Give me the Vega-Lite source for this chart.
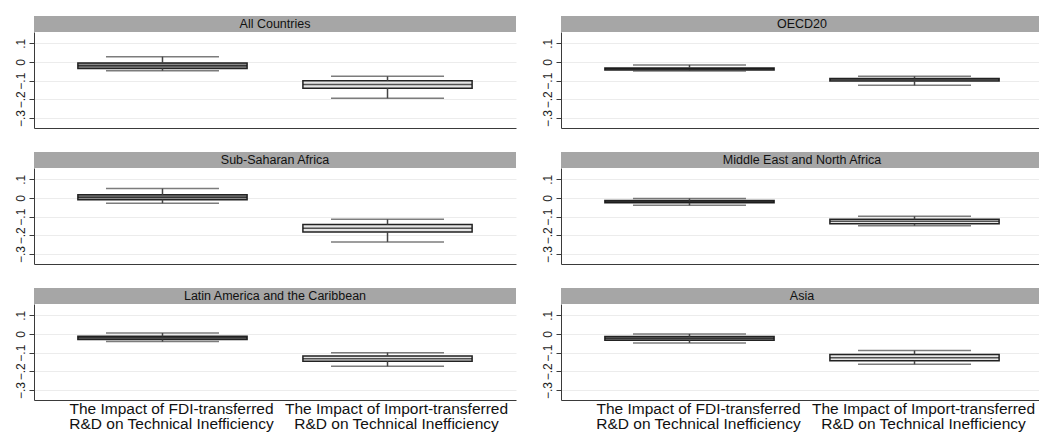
{
  "$schema": "https://vega.github.io/schema/vega-lite/v6.json",
  "padding": {"left": 13, "top": 16, "right": 0, "bottom": 0},
  "background": "white",
  "datasets": {
    "boxes": [
      {"region": "All Countries", "measure": "FDI", "lower": -0.047, "q1": -0.035, "median": -0.02, "q3": -0.005, "upper": 0.028},
      {"region": "All Countries", "measure": "Import", "lower": -0.194, "q1": -0.141, "median": -0.12, "q3": -0.1, "upper": -0.077},
      {"region": "OECD20", "measure": "FDI", "lower": -0.048, "q1": -0.043, "median": -0.037, "q3": -0.032, "upper": -0.016},
      {"region": "OECD20", "measure": "Import", "lower": -0.125, "q1": -0.102, "median": -0.095, "q3": -0.088, "upper": -0.077},
      {"region": "Sub-Saharan Africa", "measure": "FDI", "lower": -0.028, "q1": -0.009, "median": 0.004, "q3": 0.017, "upper": 0.05},
      {"region": "Sub-Saharan Africa", "measure": "Import", "lower": -0.235, "q1": -0.182, "median": -0.162, "q3": -0.142, "upper": -0.114},
      {"region": "Middle East and North Africa", "measure": "FDI", "lower": -0.039, "q1": -0.026, "median": -0.02, "q3": -0.014, "upper": -0.003},
      {"region": "Middle East and North Africa", "measure": "Import", "lower": -0.148, "q1": -0.138, "median": -0.125, "q3": -0.114, "upper": -0.098},
      {"region": "Latin America and the Caribbean", "measure": "FDI", "lower": -0.041, "q1": -0.03, "median": -0.02, "q3": -0.013, "upper": 0.005},
      {"region": "Latin America and the Caribbean", "measure": "Import", "lower": -0.173, "q1": -0.146, "median": -0.132, "q3": -0.118, "upper": -0.1},
      {"region": "Asia", "measure": "FDI", "lower": -0.048, "q1": -0.034, "median": -0.023, "q3": -0.014, "upper": 0.0},
      {"region": "Asia", "measure": "Import", "lower": -0.162, "q1": -0.143, "median": -0.127, "q3": -0.11, "upper": -0.089}
    ]
  },
  "columns": 2,
  "spacing": {"row": 24, "column": 24},
  "concat": [
    {
      "spacing": 0,
      "vconcat": [
        {"data": {"values": [{"region": "All Countries"}]}, "width": 482, "height": 16, "view": {"fill": "#a6a6a6", "stroke": null}, "mark": {"type": "text", "fontSize": 12.5, "color": "#111"}, "encoding": {"text": {"field": "region"}, "y": {"datum": 0, "type": "quantitative", "scale": {"domain": [-1, 1]}, "axis": {"title": null, "values": [0], "labelExpr": "'.1'", "labelColor": "transparent", "tickColor": "transparent", "domain": false, "grid": false}}}},
        {
          "data": {"name": "boxes"}, "width": 482, "height": 96,
          "transform": [{"filter": "datum.region == 'All Countries'"}],
          "encoding": {"x": {"field": "measure", "type": "nominal", "scale": {"domain": ["FDI", "Import"], "paddingInner": 0.248, "paddingOuter": 0.195}, "axis": {"title": null, "labels": false, "ticks": false}}},
          "layer": [
            {"mark": {"type": "bar", "stroke": "#222", "strokeWidth": 1.5}, "encoding": {"y": {"field": "q1", "type": "quantitative", "scale": {"domain": [-0.353, 0.16], "nice": false, "zero": false}, "axis": {"title": null, "values": [-0.3, -0.2, -0.1, 0, 0.1], "labelOverlap": false, "labelExpr": "datum.value == 0 ? '0' : replace(format(datum.value, '.1f'), '0.', '.')"}}, "y2": {"field": "q3"}, "fill": {"field": "measure", "type": "nominal", "scale": {"domain": ["FDI", "Import"], "range": ["#8a8a8a", "#e6e6e6"]}, "legend": null}}},
            {"mark": {"type": "tick", "color": "#111", "size": 169, "thickness": 1.5}, "encoding": {"y": {"field": "median", "type": "quantitative", "axis": {"title": null, "values": [-0.3, -0.2, -0.1, 0, 0.1], "labelOverlap": false, "labelExpr": "datum.value == 0 ? '0' : replace(format(datum.value, '.1f'), '0.', '.')"}}}},
            {"mark": {"type": "rule", "color": "#444", "strokeWidth": 1.5}, "encoding": {"y": {"field": "q3", "type": "quantitative", "axis": {"title": null, "values": [-0.3, -0.2, -0.1, 0, 0.1], "labelOverlap": false, "labelExpr": "datum.value == 0 ? '0' : replace(format(datum.value, '.1f'), '0.', '.')"}}, "y2": {"field": "upper"}}},
            {"mark": {"type": "rule", "color": "#444", "strokeWidth": 1.5}, "encoding": {"y": {"field": "lower", "type": "quantitative", "axis": {"title": null, "values": [-0.3, -0.2, -0.1, 0, 0.1], "labelOverlap": false, "labelExpr": "datum.value == 0 ? '0' : replace(format(datum.value, '.1f'), '0.', '.')"}}, "y2": {"field": "q1"}}},
            {"mark": {"type": "tick", "color": "#444", "size": 113, "thickness": 1.5}, "encoding": {"y": {"field": "upper", "type": "quantitative", "axis": {"title": null, "values": [-0.3, -0.2, -0.1, 0, 0.1], "labelOverlap": false, "labelExpr": "datum.value == 0 ? '0' : replace(format(datum.value, '.1f'), '0.', '.')"}}}},
            {"mark": {"type": "tick", "color": "#444", "size": 113, "thickness": 1.5}, "encoding": {"y": {"field": "lower", "type": "quantitative", "axis": {"title": null, "values": [-0.3, -0.2, -0.1, 0, 0.1], "labelOverlap": false, "labelExpr": "datum.value == 0 ? '0' : replace(format(datum.value, '.1f'), '0.', '.')"}}}}
          ]
        }
      ]
    },
    {
      "spacing": 0,
      "vconcat": [
        {"data": {"values": [{"region": "OECD20"}]}, "width": 482, "height": 16, "view": {"fill": "#a6a6a6", "stroke": null}, "mark": {"type": "text", "fontSize": 12.5, "color": "#111"}, "encoding": {"text": {"field": "region"}, "y": {"datum": 0, "type": "quantitative", "scale": {"domain": [-1, 1]}, "axis": {"title": null, "values": [0], "labelExpr": "'.1'", "labelColor": "transparent", "tickColor": "transparent", "domain": false, "grid": false}}}},
        {
          "data": {"name": "boxes"}, "width": 482, "height": 96,
          "transform": [{"filter": "datum.region == 'OECD20'"}],
          "encoding": {"x": {"field": "measure", "type": "nominal", "scale": {"domain": ["FDI", "Import"], "paddingInner": 0.248, "paddingOuter": 0.195}, "axis": {"title": null, "labels": false, "ticks": false}}},
          "layer": [
            {"mark": {"type": "bar", "stroke": "#222", "strokeWidth": 1.5}, "encoding": {"y": {"field": "q1", "type": "quantitative", "scale": {"domain": [-0.353, 0.16], "nice": false, "zero": false}, "axis": {"title": null, "values": [-0.3, -0.2, -0.1, 0, 0.1], "labelOverlap": false, "labelExpr": "datum.value == 0 ? '0' : replace(format(datum.value, '.1f'), '0.', '.')"}}, "y2": {"field": "q3"}, "fill": {"field": "measure", "type": "nominal", "scale": {"domain": ["FDI", "Import"], "range": ["#8a8a8a", "#e6e6e6"]}, "legend": null}}},
            {"mark": {"type": "tick", "color": "#111", "size": 169, "thickness": 1.5}, "encoding": {"y": {"field": "median", "type": "quantitative", "axis": {"title": null, "values": [-0.3, -0.2, -0.1, 0, 0.1], "labelOverlap": false, "labelExpr": "datum.value == 0 ? '0' : replace(format(datum.value, '.1f'), '0.', '.')"}}}},
            {"mark": {"type": "rule", "color": "#444", "strokeWidth": 1.5}, "encoding": {"y": {"field": "q3", "type": "quantitative", "axis": {"title": null, "values": [-0.3, -0.2, -0.1, 0, 0.1], "labelOverlap": false, "labelExpr": "datum.value == 0 ? '0' : replace(format(datum.value, '.1f'), '0.', '.')"}}, "y2": {"field": "upper"}}},
            {"mark": {"type": "rule", "color": "#444", "strokeWidth": 1.5}, "encoding": {"y": {"field": "lower", "type": "quantitative", "axis": {"title": null, "values": [-0.3, -0.2, -0.1, 0, 0.1], "labelOverlap": false, "labelExpr": "datum.value == 0 ? '0' : replace(format(datum.value, '.1f'), '0.', '.')"}}, "y2": {"field": "q1"}}},
            {"mark": {"type": "tick", "color": "#444", "size": 113, "thickness": 1.5}, "encoding": {"y": {"field": "upper", "type": "quantitative", "axis": {"title": null, "values": [-0.3, -0.2, -0.1, 0, 0.1], "labelOverlap": false, "labelExpr": "datum.value == 0 ? '0' : replace(format(datum.value, '.1f'), '0.', '.')"}}}},
            {"mark": {"type": "tick", "color": "#444", "size": 113, "thickness": 1.5}, "encoding": {"y": {"field": "lower", "type": "quantitative", "axis": {"title": null, "values": [-0.3, -0.2, -0.1, 0, 0.1], "labelOverlap": false, "labelExpr": "datum.value == 0 ? '0' : replace(format(datum.value, '.1f'), '0.', '.')"}}}}
          ]
        }
      ]
    },
    {
      "spacing": 0,
      "vconcat": [
        {"data": {"values": [{"region": "Sub-Saharan Africa"}]}, "width": 482, "height": 16, "view": {"fill": "#a6a6a6", "stroke": null}, "mark": {"type": "text", "fontSize": 12.5, "color": "#111"}, "encoding": {"text": {"field": "region"}, "y": {"datum": 0, "type": "quantitative", "scale": {"domain": [-1, 1]}, "axis": {"title": null, "values": [0], "labelExpr": "'.1'", "labelColor": "transparent", "tickColor": "transparent", "domain": false, "grid": false}}}},
        {
          "data": {"name": "boxes"}, "width": 482, "height": 96,
          "transform": [{"filter": "datum.region == 'Sub-Saharan Africa'"}],
          "encoding": {"x": {"field": "measure", "type": "nominal", "scale": {"domain": ["FDI", "Import"], "paddingInner": 0.248, "paddingOuter": 0.195}, "axis": {"title": null, "labels": false, "ticks": false}}},
          "layer": [
            {"mark": {"type": "bar", "stroke": "#222", "strokeWidth": 1.5}, "encoding": {"y": {"field": "q1", "type": "quantitative", "scale": {"domain": [-0.353, 0.16], "nice": false, "zero": false}, "axis": {"title": null, "values": [-0.3, -0.2, -0.1, 0, 0.1], "labelOverlap": false, "labelExpr": "datum.value == 0 ? '0' : replace(format(datum.value, '.1f'), '0.', '.')"}}, "y2": {"field": "q3"}, "fill": {"field": "measure", "type": "nominal", "scale": {"domain": ["FDI", "Import"], "range": ["#8a8a8a", "#e6e6e6"]}, "legend": null}}},
            {"mark": {"type": "tick", "color": "#111", "size": 169, "thickness": 1.5}, "encoding": {"y": {"field": "median", "type": "quantitative", "axis": {"title": null, "values": [-0.3, -0.2, -0.1, 0, 0.1], "labelOverlap": false, "labelExpr": "datum.value == 0 ? '0' : replace(format(datum.value, '.1f'), '0.', '.')"}}}},
            {"mark": {"type": "rule", "color": "#444", "strokeWidth": 1.5}, "encoding": {"y": {"field": "q3", "type": "quantitative", "axis": {"title": null, "values": [-0.3, -0.2, -0.1, 0, 0.1], "labelOverlap": false, "labelExpr": "datum.value == 0 ? '0' : replace(format(datum.value, '.1f'), '0.', '.')"}}, "y2": {"field": "upper"}}},
            {"mark": {"type": "rule", "color": "#444", "strokeWidth": 1.5}, "encoding": {"y": {"field": "lower", "type": "quantitative", "axis": {"title": null, "values": [-0.3, -0.2, -0.1, 0, 0.1], "labelOverlap": false, "labelExpr": "datum.value == 0 ? '0' : replace(format(datum.value, '.1f'), '0.', '.')"}}, "y2": {"field": "q1"}}},
            {"mark": {"type": "tick", "color": "#444", "size": 113, "thickness": 1.5}, "encoding": {"y": {"field": "upper", "type": "quantitative", "axis": {"title": null, "values": [-0.3, -0.2, -0.1, 0, 0.1], "labelOverlap": false, "labelExpr": "datum.value == 0 ? '0' : replace(format(datum.value, '.1f'), '0.', '.')"}}}},
            {"mark": {"type": "tick", "color": "#444", "size": 113, "thickness": 1.5}, "encoding": {"y": {"field": "lower", "type": "quantitative", "axis": {"title": null, "values": [-0.3, -0.2, -0.1, 0, 0.1], "labelOverlap": false, "labelExpr": "datum.value == 0 ? '0' : replace(format(datum.value, '.1f'), '0.', '.')"}}}}
          ]
        }
      ]
    },
    {
      "spacing": 0,
      "vconcat": [
        {"data": {"values": [{"region": "Middle East and North Africa"}]}, "width": 482, "height": 16, "view": {"fill": "#a6a6a6", "stroke": null}, "mark": {"type": "text", "fontSize": 12.5, "color": "#111"}, "encoding": {"text": {"field": "region"}, "y": {"datum": 0, "type": "quantitative", "scale": {"domain": [-1, 1]}, "axis": {"title": null, "values": [0], "labelExpr": "'.1'", "labelColor": "transparent", "tickColor": "transparent", "domain": false, "grid": false}}}},
        {
          "data": {"name": "boxes"}, "width": 482, "height": 96,
          "transform": [{"filter": "datum.region == 'Middle East and North Africa'"}],
          "encoding": {"x": {"field": "measure", "type": "nominal", "scale": {"domain": ["FDI", "Import"], "paddingInner": 0.248, "paddingOuter": 0.195}, "axis": {"title": null, "labels": false, "ticks": false}}},
          "layer": [
            {"mark": {"type": "bar", "stroke": "#222", "strokeWidth": 1.5}, "encoding": {"y": {"field": "q1", "type": "quantitative", "scale": {"domain": [-0.353, 0.16], "nice": false, "zero": false}, "axis": {"title": null, "values": [-0.3, -0.2, -0.1, 0, 0.1], "labelOverlap": false, "labelExpr": "datum.value == 0 ? '0' : replace(format(datum.value, '.1f'), '0.', '.')"}}, "y2": {"field": "q3"}, "fill": {"field": "measure", "type": "nominal", "scale": {"domain": ["FDI", "Import"], "range": ["#8a8a8a", "#e6e6e6"]}, "legend": null}}},
            {"mark": {"type": "tick", "color": "#111", "size": 169, "thickness": 1.5}, "encoding": {"y": {"field": "median", "type": "quantitative", "axis": {"title": null, "values": [-0.3, -0.2, -0.1, 0, 0.1], "labelOverlap": false, "labelExpr": "datum.value == 0 ? '0' : replace(format(datum.value, '.1f'), '0.', '.')"}}}},
            {"mark": {"type": "rule", "color": "#444", "strokeWidth": 1.5}, "encoding": {"y": {"field": "q3", "type": "quantitative", "axis": {"title": null, "values": [-0.3, -0.2, -0.1, 0, 0.1], "labelOverlap": false, "labelExpr": "datum.value == 0 ? '0' : replace(format(datum.value, '.1f'), '0.', '.')"}}, "y2": {"field": "upper"}}},
            {"mark": {"type": "rule", "color": "#444", "strokeWidth": 1.5}, "encoding": {"y": {"field": "lower", "type": "quantitative", "axis": {"title": null, "values": [-0.3, -0.2, -0.1, 0, 0.1], "labelOverlap": false, "labelExpr": "datum.value == 0 ? '0' : replace(format(datum.value, '.1f'), '0.', '.')"}}, "y2": {"field": "q1"}}},
            {"mark": {"type": "tick", "color": "#444", "size": 113, "thickness": 1.5}, "encoding": {"y": {"field": "upper", "type": "quantitative", "axis": {"title": null, "values": [-0.3, -0.2, -0.1, 0, 0.1], "labelOverlap": false, "labelExpr": "datum.value == 0 ? '0' : replace(format(datum.value, '.1f'), '0.', '.')"}}}},
            {"mark": {"type": "tick", "color": "#444", "size": 113, "thickness": 1.5}, "encoding": {"y": {"field": "lower", "type": "quantitative", "axis": {"title": null, "values": [-0.3, -0.2, -0.1, 0, 0.1], "labelOverlap": false, "labelExpr": "datum.value == 0 ? '0' : replace(format(datum.value, '.1f'), '0.', '.')"}}}}
          ]
        }
      ]
    },
    {
      "spacing": 0,
      "vconcat": [
        {"data": {"values": [{"region": "Latin America and the Caribbean"}]}, "width": 482, "height": 16, "view": {"fill": "#a6a6a6", "stroke": null}, "mark": {"type": "text", "fontSize": 12.5, "color": "#111"}, "encoding": {"text": {"field": "region"}, "y": {"datum": 0, "type": "quantitative", "scale": {"domain": [-1, 1]}, "axis": {"title": null, "values": [0], "labelExpr": "'.1'", "labelColor": "transparent", "tickColor": "transparent", "domain": false, "grid": false}}}},
        {
          "data": {"name": "boxes"}, "width": 482, "height": 96,
          "transform": [{"filter": "datum.region == 'Latin America and the Caribbean'"}],
          "encoding": {"x": {"field": "measure", "type": "nominal", "scale": {"domain": ["FDI", "Import"], "paddingInner": 0.248, "paddingOuter": 0.195}, "axis": {"title": null, "ticks": false, "labelAngle": 0, "labelFontSize": 15.5, "labelLineHeight": 15, "labelPadding": 1, "labelOffset": 9, "labelColor": "#111", "labelLimit": 0, "labelOverlap": false, "labelExpr": "datum.value == 'FDI' ? ['The Impact of FDI-transferred', 'R&D on Technical Inefficiency'] : ['The Impact of Import-transferred', 'R&D on Technical Inefficiency']"}}},
          "layer": [
            {"mark": {"type": "bar", "stroke": "#222", "strokeWidth": 1.5}, "encoding": {"y": {"field": "q1", "type": "quantitative", "scale": {"domain": [-0.353, 0.16], "nice": false, "zero": false}, "axis": {"title": null, "values": [-0.3, -0.2, -0.1, 0, 0.1], "labelOverlap": false, "labelExpr": "datum.value == 0 ? '0' : replace(format(datum.value, '.1f'), '0.', '.')"}}, "y2": {"field": "q3"}, "fill": {"field": "measure", "type": "nominal", "scale": {"domain": ["FDI", "Import"], "range": ["#8a8a8a", "#e6e6e6"]}, "legend": null}}},
            {"mark": {"type": "tick", "color": "#111", "size": 169, "thickness": 1.5}, "encoding": {"y": {"field": "median", "type": "quantitative", "axis": {"title": null, "values": [-0.3, -0.2, -0.1, 0, 0.1], "labelOverlap": false, "labelExpr": "datum.value == 0 ? '0' : replace(format(datum.value, '.1f'), '0.', '.')"}}}},
            {"mark": {"type": "rule", "color": "#444", "strokeWidth": 1.5}, "encoding": {"y": {"field": "q3", "type": "quantitative", "axis": {"title": null, "values": [-0.3, -0.2, -0.1, 0, 0.1], "labelOverlap": false, "labelExpr": "datum.value == 0 ? '0' : replace(format(datum.value, '.1f'), '0.', '.')"}}, "y2": {"field": "upper"}}},
            {"mark": {"type": "rule", "color": "#444", "strokeWidth": 1.5}, "encoding": {"y": {"field": "lower", "type": "quantitative", "axis": {"title": null, "values": [-0.3, -0.2, -0.1, 0, 0.1], "labelOverlap": false, "labelExpr": "datum.value == 0 ? '0' : replace(format(datum.value, '.1f'), '0.', '.')"}}, "y2": {"field": "q1"}}},
            {"mark": {"type": "tick", "color": "#444", "size": 113, "thickness": 1.5}, "encoding": {"y": {"field": "upper", "type": "quantitative", "axis": {"title": null, "values": [-0.3, -0.2, -0.1, 0, 0.1], "labelOverlap": false, "labelExpr": "datum.value == 0 ? '0' : replace(format(datum.value, '.1f'), '0.', '.')"}}}},
            {"mark": {"type": "tick", "color": "#444", "size": 113, "thickness": 1.5}, "encoding": {"y": {"field": "lower", "type": "quantitative", "axis": {"title": null, "values": [-0.3, -0.2, -0.1, 0, 0.1], "labelOverlap": false, "labelExpr": "datum.value == 0 ? '0' : replace(format(datum.value, '.1f'), '0.', '.')"}}}}
          ]
        }
      ]
    },
    {
      "spacing": 0,
      "vconcat": [
        {"data": {"values": [{"region": "Asia"}]}, "width": 482, "height": 16, "view": {"fill": "#a6a6a6", "stroke": null}, "mark": {"type": "text", "fontSize": 12.5, "color": "#111"}, "encoding": {"text": {"field": "region"}, "y": {"datum": 0, "type": "quantitative", "scale": {"domain": [-1, 1]}, "axis": {"title": null, "values": [0], "labelExpr": "'.1'", "labelColor": "transparent", "tickColor": "transparent", "domain": false, "grid": false}}}},
        {
          "data": {"name": "boxes"}, "width": 482, "height": 96,
          "transform": [{"filter": "datum.region == 'Asia'"}],
          "encoding": {"x": {"field": "measure", "type": "nominal", "scale": {"domain": ["FDI", "Import"], "paddingInner": 0.248, "paddingOuter": 0.195}, "axis": {"title": null, "ticks": false, "labelAngle": 0, "labelFontSize": 15.5, "labelLineHeight": 15, "labelPadding": 1, "labelOffset": 9, "labelColor": "#111", "labelLimit": 0, "labelOverlap": false, "labelExpr": "datum.value == 'FDI' ? ['The Impact of FDI-transferred', 'R&D on Technical Inefficiency'] : ['The Impact of Import-transferred', 'R&D on Technical Inefficiency']"}}},
          "layer": [
            {"mark": {"type": "bar", "stroke": "#222", "strokeWidth": 1.5}, "encoding": {"y": {"field": "q1", "type": "quantitative", "scale": {"domain": [-0.353, 0.16], "nice": false, "zero": false}, "axis": {"title": null, "values": [-0.3, -0.2, -0.1, 0, 0.1], "labelOverlap": false, "labelExpr": "datum.value == 0 ? '0' : replace(format(datum.value, '.1f'), '0.', '.')"}}, "y2": {"field": "q3"}, "fill": {"field": "measure", "type": "nominal", "scale": {"domain": ["FDI", "Import"], "range": ["#8a8a8a", "#e6e6e6"]}, "legend": null}}},
            {"mark": {"type": "tick", "color": "#111", "size": 169, "thickness": 1.5}, "encoding": {"y": {"field": "median", "type": "quantitative", "axis": {"title": null, "values": [-0.3, -0.2, -0.1, 0, 0.1], "labelOverlap": false, "labelExpr": "datum.value == 0 ? '0' : replace(format(datum.value, '.1f'), '0.', '.')"}}}},
            {"mark": {"type": "rule", "color": "#444", "strokeWidth": 1.5}, "encoding": {"y": {"field": "q3", "type": "quantitative", "axis": {"title": null, "values": [-0.3, -0.2, -0.1, 0, 0.1], "labelOverlap": false, "labelExpr": "datum.value == 0 ? '0' : replace(format(datum.value, '.1f'), '0.', '.')"}}, "y2": {"field": "upper"}}},
            {"mark": {"type": "rule", "color": "#444", "strokeWidth": 1.5}, "encoding": {"y": {"field": "lower", "type": "quantitative", "axis": {"title": null, "values": [-0.3, -0.2, -0.1, 0, 0.1], "labelOverlap": false, "labelExpr": "datum.value == 0 ? '0' : replace(format(datum.value, '.1f'), '0.', '.')"}}, "y2": {"field": "q1"}}},
            {"mark": {"type": "tick", "color": "#444", "size": 113, "thickness": 1.5}, "encoding": {"y": {"field": "upper", "type": "quantitative", "axis": {"title": null, "values": [-0.3, -0.2, -0.1, 0, 0.1], "labelOverlap": false, "labelExpr": "datum.value == 0 ? '0' : replace(format(datum.value, '.1f'), '0.', '.')"}}}},
            {"mark": {"type": "tick", "color": "#444", "size": 113, "thickness": 1.5}, "encoding": {"y": {"field": "lower", "type": "quantitative", "axis": {"title": null, "values": [-0.3, -0.2, -0.1, 0, 0.1], "labelOverlap": false, "labelExpr": "datum.value == 0 ? '0' : replace(format(datum.value, '.1f'), '0.', '.')"}}}}
          ]
        }
      ]
    }
  ],
  "config": {
    "font": "Liberation Sans",
    "view": {"stroke": null},
    "axis": {"domainColor": "#3a3a3a", "tickColor": "#3a3a3a", "labelColor": "#222", "gridColor": "#ececec", "domainWidth": 1},
    "axisY": {"labelAngle": -90, "labelFontSize": 12, "tickSize": 5, "labelPadding": 2, "grid": true, "labelAlign": "center", "labelBaseline": "bottom", "labelOverlap": false},
    "axisX": {"grid": false}
  }
}
